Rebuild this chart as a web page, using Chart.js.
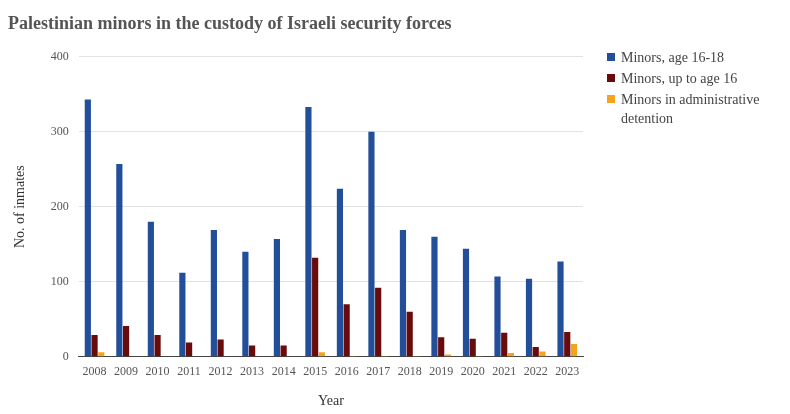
<!DOCTYPE html>
<html>
<head>
<meta charset="utf-8">
<script src="https://cdn.jsdelivr.net/npm/chart.js@4"></script>
<style>
  html, body { margin:0; padding:0; background:#fff; }
  #wrap { position:relative; width:790px; height:414px; }
  #legend { position:absolute; left:605px; top:48px; width:185px; font-family:'Times New Roman','Liberation Serif',serif; font-size:14px; color:#444; }
  #legend .item { display:flex; align-items:flex-start; margin-bottom:2px; line-height:19px; }
  #legend .sw { width:8px; height:8px; margin:5px 6px 0 2px; flex:none; }
</style>
</head>
<body>
<div id="wrap">
  <canvas id="chart" width="790" height="414"></canvas>
  <div id="legend"></div>
</div>
<script>
// ---- data ----
const years = ['2008','2009','2010','2011','2012','2013','2014','2015','2016','2017','2018','2019','2020','2021','2022','2023'];
const age16to18 = [343, 257, 180, 112, 169, 140, 157, 333, 224, 300, 169, 160, 144, 107, 104, 127];
const under16   = [29, 41, 29, 19, 23, 15, 15, 132, 70, 92, 60, 26, 24, 32, 13, 33];
const adminDet  = [6, 0, 0, 0, 0, 0, 0, 6, 1, 1, 1, 3, 1, 5, 7, 17];
const seriesNames = ['Minors, age 16-18', 'Minors, up to age 16', 'Minors in administrative detention'];
const yTicks = [0, 100, 200, 300, 400];

const COLORS = ['#234e9a', '#6a0b0b', '#f5a31f'];
const SERIF = "'Times New Roman','Liberation Serif',serif";

const datasets = [age16to18, under16, adminDet].map((d, i) => ({
  label: seriesNames[i],
  data: d,
  backgroundColor: COLORS[i],
  categoryPercentage: 0.64,
  barPercentage: 0.92,
}));

new Chart(document.getElementById('chart'), {
  type: 'bar',
  data: { labels: years, datasets },
  options: {
    responsive: false,
    animation: false,
    layout: { padding: { left: 8, right: 207, top: 4, bottom: 0 } },
    plugins: {
      legend: { display: false },
      tooltip: { enabled: false },
      title: {
        display: true,
        text: 'Palestinian minors in the custody of Israeli security forces',
        align: 'start',
        color: '#555',
        font: { family: SERIF, size: 18, weight: 'bold' },
        padding: { top: 10, bottom: 21 },
      },
    },
    scales: {
      x: {
        grid: { display: false },
        border: { color: '#444', width: 1 },
        ticks: { color: '#555', font: { family: SERIF, size: 12 }, maxRotation: 0, autoSkip: false, padding: 0 },
        title: { display: true, text: 'Year', color: '#333', font: { family: SERIF, size: 14 }, padding: { top: 14 } },
      },
      y: {
        min: 0, max: 400,
        afterBuildTicks: ax => { ax.ticks = yTicks.map(v => ({ value: v })); },
        grid: { color: '#e2e2e2', drawTicks: false },
        border: { display: false },
        ticks: { color: '#555', font: { family: SERIF, size: 12 }, padding: 10 },
        title: { display: true, text: 'No. of inmates', color: '#333', font: { family: SERIF, size: 14 }, padding: { bottom: 12 } },
      },
    },
  },
});

// HTML legend (the third label wraps onto two lines)
const leg = document.getElementById('legend');
seriesNames.forEach((n, i) => {
  const el = document.createElement('div');
  el.className = 'item';
  el.innerHTML = '<span class="sw" style="background:' + COLORS[i] + '"></span><span>' + n + '</span>';
  leg.appendChild(el);
});
</script>
</body>
</html>
